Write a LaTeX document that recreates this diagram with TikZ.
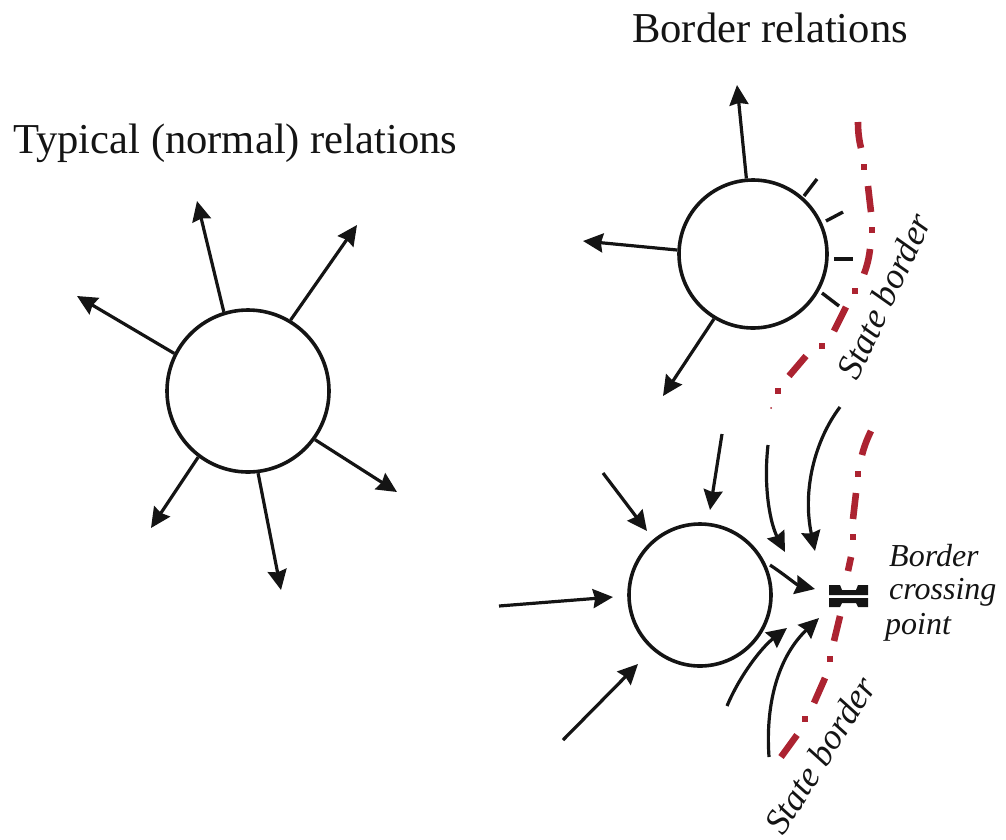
\documentclass[tikz,border=0pt]{standalone}
\usepackage{fontspec}
\setmainfont{Liberation Serif}
\usetikzlibrary{arrows.meta}
\definecolor{ink}{HTML}{141414}
\definecolor{borderred}{HTML}{AC2331}
\tikzset{
  x=1pt,y=-1pt,
  disc/.style={circle,draw=ink,line width=3.6pt,fill=white,inner sep=0pt},
  arr/.style={draw=ink,line width=3.2pt,-{Stealth[length=20pt,width=19pt,inset=2pt]}},
  tickmark/.style={draw=ink,line width=3.4pt},
  redline/.style={draw=borderred,line width=6.6pt},
  reddot/.style={fill=borderred},
  heading/.style={text=ink,font=\fontsize{42.6}{42.6}\selectfont,inner sep=0pt,anchor=west},
  borderlab/.style={text=ink,font=\fontsize{36}{36}\selectfont\itshape,inner sep=0pt},
  crosslab/.style={text=ink,font=\fontsize{32}{32}\selectfont\itshape,inner sep=0pt,anchor=west},
}
\begin{document}
\begin{tikzpicture}
\useasboundingbox (0,0) rectangle (1006,839);
% circles
\node[disc,minimum size=162pt] (cA) at (248,391) {};
\node[disc,minimum size=148pt] (cB) at (753,254) {};
\node[disc,minimum size=142pt] (cC) at (700,595) {};
% headings
\node[heading] (hB) at (632,28) {Border relations};
\node[heading] (hA) at (13,143) {Typical (normal) relations};
% free ends
\foreach \n/\x/\y in {a1/197/201,a2/357/225,a3/77/296,a4/397/492,a5/151/528,a6/281/590,
  b1/737/85,b2/583/241,b3/663/396,
  d1/722/434,d2/710/510,d3/603/473,d4/647/531,d5/499/606,d6/613/597,d7/563/740,d8/638/664,
  e1s/768/445,e1e/785/552,e2s/840/407,e2e/815/551,e3s/770/565,e3e/815/589,
  e4s/727/706,e4e/787/628,e5s/769/757,e5e/819/618}
  \coordinate (\n) at (\x,\y);
% left arrows
\draw[arr] (cA.107) -- (a1);
\draw[arr] (cA.59) -- (a2);
\draw[arr] (cA.153) -- (a3);
\draw[arr] (cA.-36) -- (a4);
\draw[arr] (cA.233) -- (a5);
\draw[arr] (cA.-83) -- (a6);
% top right arrows
\draw[arr] (cB.95) -- (b1);
\draw[arr] (cB.177) -- (b2);
\draw[arr] (cB.239) -- (b3);
% ticks
\draw[tickmark] (804,196) -- (817,179);
\draw[tickmark] (826,221) -- (843,212);
\draw[tickmark] (834,259) -- (853,259);
\draw[tickmark] (822,293) -- (839,306);
% bottom straight arrows
\draw[arr] (d1) -- (d2);
\draw[arr] (d3) -- (d4);
\draw[arr] (d5) -- (d6);
\draw[arr] (d7) -- (d8);
% bottom curved arrows
\draw[arr] (e1s) .. controls (763,490) and (771,525) .. (e1e);
\draw[arr] (e2s) .. controls (815,440) and (802,490) .. (e2e);
\draw[arr] (e3s) .. controls (785,575) and (797,585) .. (e3e);
\draw[arr] (e4s) .. controls (740,675) and (762,647) .. (e4e);
\draw[arr] (e5s) .. controls (765,700) and (780,655) .. (e5e);
% state borders
\draw[redline] (858,122) .. controls (858,132) and (859,140) .. (861,148)
  (868,186) .. controls (869,195) and (870,204) .. (871,212)
  (870,249) .. controls (869,258) and (867,266) .. (864,274)
  (846,307) -- (834,331)
  (806,356) -- (789,376);
\foreach \x/\y in {864/167,872/230,855/291,822/346,778/391}
  \fill[reddot] (\x-3.4,\y-3.4) rectangle (\x+3.4,\y+3.4);
\fill[reddot] (771,408) circle (1pt);
\draw[redline] (871,431) .. controls (867,439) and (864,447) .. (862,455)
  (856,493) -- (853,519)
  (851,557) -- (848,571)
  (840,616) -- (834,641)
  (825,678) -- (814,703)
  (797,735) -- (781,757);
\foreach \x/\y in {858/474,853/537,830/659,805/719}
  \fill[reddot] (\x-3.4,\y-3.4) rectangle (\x+3.4,\y+3.4);
% crossing symbol
\fill[ink] (829,585) -- (840,585) -- (842,590) -- (856,590) -- (858,585) -- (868,585) -- (868,595) -- (829,595) -- cycle;
\fill[ink] (829,607) -- (840,607) -- (842,603) -- (856,603) -- (858,607) -- (868,607) -- (868,598) -- (829,598) -- cycle;
% labels
\node[borderlab,rotate=65] (s1) at (884,296) {State border};
\node[borderlab,rotate=58] (s2) at (820,755) {State border};
\node[crosslab] (x1) at (889,556) {Border};
\node[crosslab] (x2) at (889,592) {crossing};
\node[crosslab] (x3) at (885,627) {point};
\end{tikzpicture}
\end{document}
